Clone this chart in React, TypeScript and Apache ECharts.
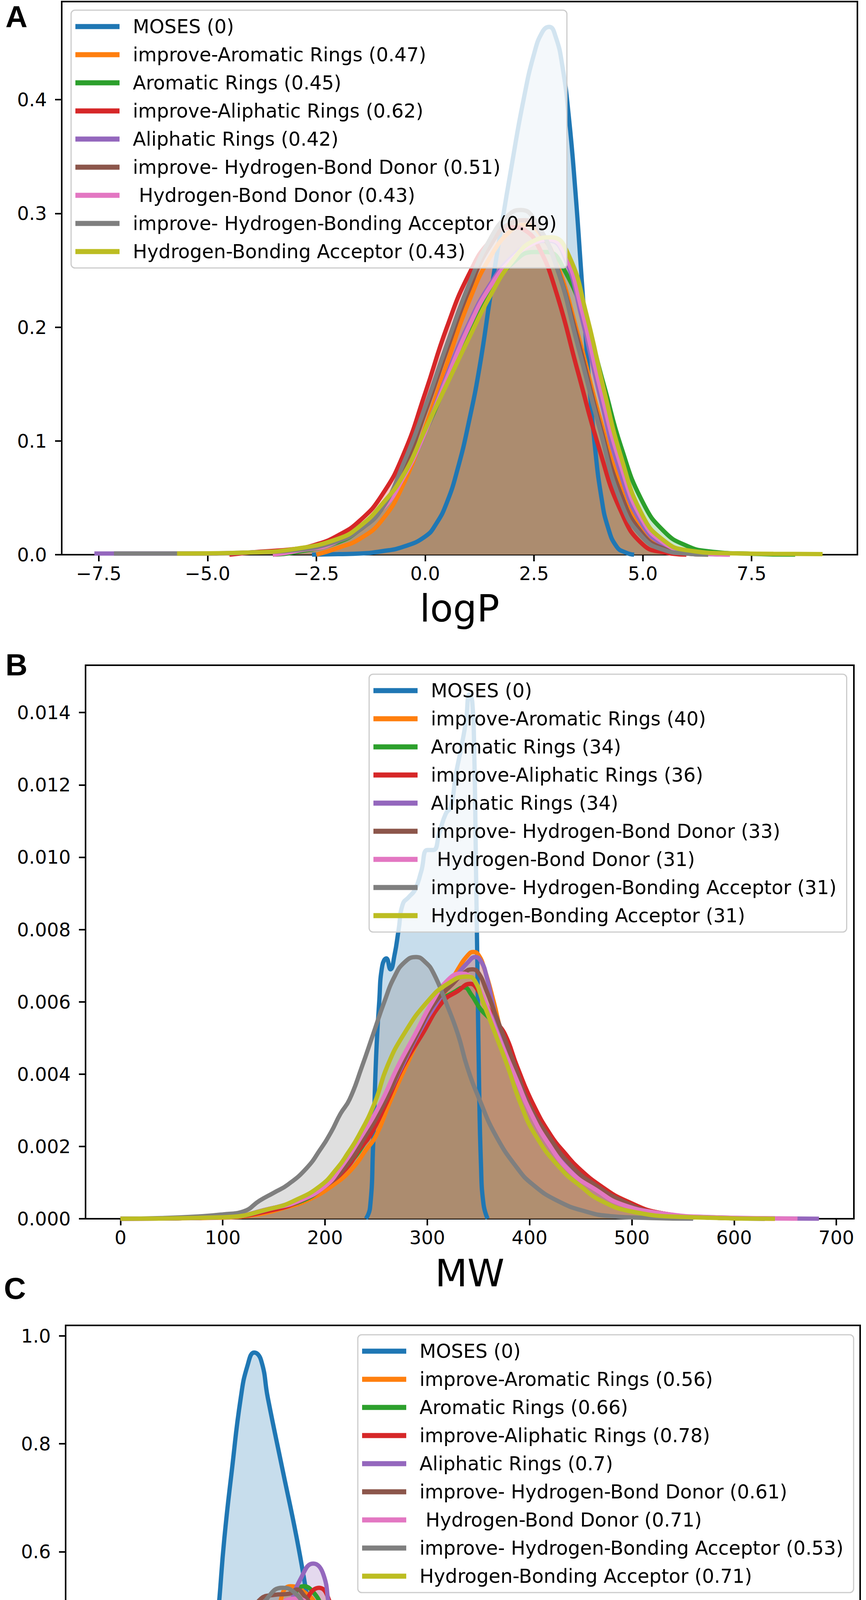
import React, { useEffect, useRef } from 'react';
import * as echarts from 'echarts';

const COLORS = ['#1f77b4', '#ff7f0e', '#2ca02c', '#d62728', '#9467bd', '#8c564b', '#e377c2', '#7f7f7f', '#bcbd22'];

const NAMES_A = ['MOSES (0)', 'improve-Aromatic Rings (0.47)', 'Aromatic Rings (0.45)', 'improve-Aliphatic Rings (0.62)', 'Aliphatic Rings (0.42)', 'improve- Hydrogen-Bond Donor (0.51)', ' Hydrogen-Bond Donor (0.43)', 'improve- Hydrogen-Bonding Acceptor (0.49)', 'Hydrogen-Bonding Acceptor (0.43)'];
const NAMES_B = ['MOSES (0)', 'improve-Aromatic Rings (40)', 'Aromatic Rings (34)', 'improve-Aliphatic Rings (36)', 'Aliphatic Rings (34)', 'improve- Hydrogen-Bond Donor (33)', ' Hydrogen-Bond Donor (31)', 'improve- Hydrogen-Bonding Acceptor (31)', 'Hydrogen-Bonding Acceptor (31)'];
const NAMES_C = ['MOSES (0)', 'improve-Aromatic Rings (0.56)', 'Aromatic Rings (0.66)', 'improve-Aliphatic Rings (0.78)', 'Aliphatic Rings (0.7)', 'improve- Hydrogen-Bond Donor (0.61)', ' Hydrogen-Bond Donor (0.71)', 'improve- Hydrogen-Bonding Acceptor (0.53)', 'Hydrogen-Bonding Acceptor (0.71)'];

// ---------- Panel A: logP ----------
const A_MOSES = [[-2.6,0],[-2,0.0005],[-1.5,0.001],[-1,0.003],[-0.5,0.007],[0,0.016],[0.25,0.027],[0.5,0.046],[0.75,0.076],[1.0,0.116],[1.25,0.165],[1.5,0.228],[1.75,0.288],[2.0,0.345],[2.25,0.398],[2.5,0.44],[2.7,0.46],[2.85,0.464],[3.0,0.455],[3.15,0.43],[3.3,0.385],[3.45,0.32],[3.6,0.24],[3.75,0.16],[3.9,0.095],[4.05,0.05],[4.2,0.024],[4.4,0.007],[4.6,0.002],[4.8,0]];
const A_IMP_ARO = [[-2.5,0],[-2,0.006],[-1.5,0.014],[-1,0.03],[-0.5,0.062],[0,0.112],[0.5,0.168],[1,0.222],[1.5,0.262],[2,0.286],[2.3,0.29],[2.6,0.284],[3,0.258],[3.5,0.195],[4,0.122],[4.5,0.06],[5,0.022],[5.5,0.007],[6,0.002],[6.5,0]];
const A_ARO = [[-3.5,0],[-3,0.002],[-2,0.011],[-1.5,0.022],[-1,0.04],[-0.5,0.07],[0,0.108],[0.5,0.152],[1,0.196],[1.5,0.232],[2,0.256],[2.5,0.266],[2.8,0.266],[3.2,0.25],[3.7,0.203],[4.1,0.15],[4.5,0.095],[5,0.046],[5.5,0.02],[6,0.008],[6.5,0.003],[7.5,0.0008],[8.5,0]];
const A_IMP_ALI = [[-4.5,0],[-4,0.002],[-3,0.005],[-2.5,0.009],[-2,0.017],[-1.5,0.03],[-1,0.052],[-0.5,0.088],[0,0.142],[0.5,0.2],[1,0.246],[1.5,0.276],[2,0.288],[2.3,0.285],[2.6,0.271],[3,0.232],[3.5,0.162],[4,0.093],[4.5,0.038],[5,0.009],[5.5,0.002],[6,0]];
const A_ALI = [[-7.6,0.001],[-6,0.001],[-5,0.001],[-4,0.002],[-3,0.004],[-2,0.012],[-1,0.04],[-0.5,0.068],[0,0.108],[0.5,0.158],[1,0.203],[1.5,0.238],[2,0.262],[2.5,0.274],[2.85,0.276],[3.2,0.262],[3.6,0.208],[4,0.142],[4.5,0.07],[5,0.026],[5.5,0.008],[6,0.002],[7,0]];
const A_IMP_HBD = [[-3.5,0],[-3,0.003],[-2,0.012],[-1,0.04],[-0.5,0.075],[0,0.125],[0.5,0.18],[1,0.232],[1.5,0.272],[2,0.292],[2.3,0.294],[2.7,0.28],[3,0.256],[3.5,0.19],[4,0.116],[4.5,0.053],[5,0.018],[5.5,0.005],[6,0.001],[6.5,0]];
const A_HBD = [[-3.5,0],[-3,0.003],[-2,0.012],[-1,0.04],[-0.5,0.068],[0,0.108],[0.5,0.155],[1,0.2],[1.5,0.236],[2,0.26],[2.5,0.274],[2.85,0.277],[3.2,0.265],[3.6,0.215],[4,0.15],[4.5,0.078],[5,0.03],[5.5,0.01],[6,0.003],[7,0]];
const A_IMP_HBA = [[-7.15,0.001],[-6,0.001],[-5.6,0.001],[-4,0.002],[-3,0.004],[-2,0.012],[-1.5,0.022],[-1,0.04],[-0.5,0.08],[0,0.13],[0.5,0.185],[1,0.237],[1.5,0.278],[1.9,0.298],[2.2,0.303],[2.5,0.295],[3,0.255],[3.5,0.185],[4,0.112],[4.5,0.046],[5,0.015],[5.5,0.004],[6,0.001],[6.5,0]];
const A_HBA = [[-5.7,0.001],[-4,0.002],[-3,0.005],[-2,0.014],[-1.5,0.025],[-1,0.044],[-0.5,0.07],[0,0.11],[0.5,0.15],[1,0.19],[1.5,0.228],[2,0.258],[2.5,0.276],[2.9,0.279],[3.3,0.263],[3.7,0.212],[4.1,0.146],[4.5,0.086],[5,0.034],[5.5,0.012],[6,0.004],[7,0.0012],[8,0.0008],[9.13,0.0005]];

// ---------- Panel B: MW ----------
const B_MOSES = [[240,0],[244,0.0003],[247,0.002],[250,0.0045],[253,0.006],[256,0.007],[260,0.0072],[264,0.0069],[268,0.0073],[272,0.008],[276,0.0087],[282,0.0089],[288,0.0091],[294,0.0096],[300,0.0102],[306,0.0102],[312,0.0107],[318,0.0112],[323,0.0114],[328,0.0123],[333,0.013],[338,0.0138],[341,0.0145],[344,0.0143],[346,0.0128],[347.5,0.01],[349,0.007],[350.5,0.004],[352.5,0.0015],[355,0.0004],[359,0]];
const B_IMP_ARO = [[0,0],[100,0.00003],[136,0.00013],[160,0.0003],[182,0.0005],[209,0.00095],[227,0.0014],[240,0.0019],[250,0.0023],[263,0.0032],[279,0.0042],[294,0.0051],[312,0.006],[330,0.0069],[340,0.0073],[345,0.00738],[350,0.0073],[356,0.0069],[365,0.006],[373,0.0051],[385,0.0042],[397,0.0032],[415,0.0023],[430,0.0018],[445,0.0014],[467,0.00095],[494,0.0005],[530,0.00015],[580,0.00003],[640,0]];
const B_ARO = [[0,0],[100,0.00004],[150,0.0003],[178,0.0005],[200,0.0009],[220,0.0014],[243,0.0023],[259,0.0032],[275,0.0042],[293,0.0051],[313,0.006],[328,0.0063],[336,0.0064],[343,0.0062],[352,0.0058],[362,0.0055],[371,0.0051],[385,0.0042],[400,0.0032],[420,0.0023],[442,0.0014],[465,0.0009],[490,0.0005],[530,0.00015],[580,0.00003],[630,0]];
const B_IMP_ALI = [[0,0],[100,0.00004],[150,0.00025],[176,0.0005],[200,0.0009],[221,0.0014],[233,0.0019],[244,0.0023],[260,0.0032],[276,0.0042],[295,0.0051],[315,0.006],[330,0.0063],[342,0.0065],[350,0.0063],[358,0.0059],[366,0.0055],[376,0.0051],[388,0.0042],[403,0.0032],[421,0.0023],[435,0.0018],[448,0.0014],[470,0.0009],[494,0.0005],[530,0.00015],[580,0.00003],[640,0]];
const B_ALI = [[0,0],[100,0.00004],[150,0.0003],[180,0.0006],[200,0.0009],[218,0.0014],[239,0.0023],[257.6,0.0032],[275,0.0042],[291,0.0051],[310,0.006],[328,0.0067],[340,0.0071],[347,0.00724],[353,0.0071],[358,0.0067],[363.6,0.006],[371,0.0051],[384,0.0042],[397,0.0032],[416,0.0023],[439,0.0014],[460,0.0009],[485,0.0005],[520,0.00018],[580,0.00004],[640,0.00001],[683,0]];
const B_IMP_HBD = [[0,0],[100,0.00004],[150,0.0003],[176,0.0005],[200,0.0009],[219,0.0014],[240,0.0023],[258,0.0032],[274,0.0042],[290,0.0051],[308,0.006],[325,0.0065],[336,0.0068],[344,0.0069],[350,0.0068],[358,0.0063],[366,0.0057],[374,0.0051],[386,0.0042],[399,0.0032],[418,0.0023],[443,0.0014],[466,0.0009],[490,0.0005],[525,0.00016],[580,0.00003],[630,0]];
const B_HBD = [[0,0],[100,0.00004],[150,0.0003],[175,0.0005],[200,0.0009],[215,0.0014],[236,0.0023],[254.5,0.0032],[271,0.0042],[288,0.0051],[305,0.006],[320,0.0066],[333,0.00678],[342,0.0067],[350,0.0064],[358,0.0059],[366,0.0053],[376,0.0046],[388,0.0038],[400,0.003],[418,0.0021],[440,0.0013],[465,0.0008],[490,0.0004],[530,0.00015],[580,0.00004],[640,0.00001],[662,0]];
const B_IMP_HBA = [[0,0],[40,0.00002],[80,0.00007],[100,0.00012],[120,0.0002],[136,0.0005],[150,0.00072],[164,0.00095],[182,0.0014],[195,0.0019],[206,0.0024],[215,0.0029],[224,0.0033],[236,0.0042],[247,0.0051],[258,0.006],[268,0.0067],[278,0.0071],[289,0.00724],[298,0.0071],[306,0.0068],[318,0.006],[330,0.0051],[339,0.0042],[351,0.0033],[367,0.0023],[388,0.0014],[403,0.00095],[427,0.0005],[455,0.0002],[480,0.00007],[520,0.00002],[560,0]];
const B_HBA = [[0,0],[100,0.00004],[150,0.0003],[170,0.0005],[195,0.0009],[212,0.0014],[222,0.0018],[233,0.0023],[248.5,0.0032],[260.6,0.0042],[277,0.0051],[300,0.006],[320,0.0065],[339,0.0067],[346,0.0066],[354.5,0.006],[366.7,0.0051],[378.8,0.0042],[391,0.0032],[406,0.0023],[430,0.0014],[450,0.0009],[470,0.0005],[500,0.0002],[550,0.00005],[640,0]];

// ---------- Panel C: SA ----------
const C_MOSES = [[1.0,0],[1.23,0.005],[1.44,0.025],[1.59,0.07],[1.67,0.135],[1.74,0.233],[1.80,0.364],[1.87,0.494],[1.93,0.624],[2.01,0.754],[2.10,0.885],[2.17,0.945],[2.24,0.969],[2.31,0.955],[2.38,0.885],[2.53,0.754],[2.68,0.624],[2.81,0.494],[2.95,0.364],[3.12,0.233],[3.25,0.168],[3.45,0.103],[3.65,0.064],[3.89,0.038],[4.23,0.018],[4.73,0.005],[5.2,0.001],[5.8,0]];
const C_IMP_ARO = [[0.65,0],[1.0,0.001],[1.3,0.004],[1.5,0.013],[1.67,0.038],[1.8,0.103],[2.04,0.233],[2.29,0.364],[2.45,0.46],[2.61,0.536],[2.72,0.53],[2.9,0.494],[3.15,0.364],[3.45,0.298],[3.82,0.233],[4.16,0.168],[4.46,0.103],[4.9,0.038],[5.23,0.012],[5.7,0.003],[6.5,0]];
const C_ARO = [[0.8,0],[1.2,0.002],[1.5,0.01],[1.7,0.038],[1.87,0.103],[2.12,0.233],[2.36,0.364],[2.5,0.44],[2.63,0.51],[2.75,0.536],[2.85,0.525],[2.95,0.494],[3.1,0.43],[3.25,0.364],[3.45,0.331],[3.65,0.298],[3.99,0.233],[4.25,0.168],[4.52,0.103],[4.99,0.038],[5.4,0.012],[6,0.003],[7,0]];
const C_IMP_ALI = [[0.9,0],[1.2,0.001],[1.45,0.005],[1.6,0.012],[1.77,0.038],[1.94,0.103],[2.21,0.233],[2.44,0.364],[2.61,0.429],[2.75,0.5],[2.91,0.533],[3.05,0.494],[3.18,0.429],[3.35,0.364],[3.58,0.331],[3.82,0.298],[4.12,0.233],[4.36,0.168],[4.63,0.103],[5.07,0.038],[5.5,0.012],[6,0.004],[7,0]];
const C_ALI = [[0.9,0],[1.3,0.001],[1.5,0.003],[1.6,0.008],[1.74,0.038],[1.91,0.103],[2.14,0.233],[2.34,0.364],[2.5,0.44],[2.6,0.494],[2.72,0.55],[2.85,0.578],[2.95,0.56],[3.02,0.494],[3.12,0.43],[3.25,0.364],[3.52,0.298],[3.79,0.266],[4.06,0.233],[4.29,0.168],[4.6,0.103],[4.83,0.07],[5.13,0.038],[5.57,0.012],[6.2,0.003],[7,0]];
const C_IMP_HBD = [[0.8,0],[1.2,0.002],[1.45,0.012],[1.6,0.04],[1.70,0.103],[1.87,0.233],[2.04,0.364],[2.17,0.461],[2.31,0.513],[2.45,0.52],[2.6,0.522],[2.68,0.53],[2.75,0.52],[2.85,0.494],[3.05,0.429],[3.28,0.364],[3.59,0.298],[3.88,0.233],[4.12,0.2],[4.26,0.168],[4.56,0.103],[5.03,0.038],[5.4,0.012],[6,0.003],[7,0]];
const C_HBD = [[0.8,0],[1.2,0.002],[1.5,0.015],[1.62,0.04],[1.75,0.103],[1.94,0.233],[2.14,0.364],[2.31,0.45],[2.5,0.5],[2.68,0.513],[2.8,0.5],[2.95,0.45],[3.22,0.364],[3.52,0.298],[3.72,0.266],[3.95,0.233],[4.29,0.168],[4.66,0.103],[5.26,0.038],[5.9,0.012],[6.5,0.004],[7.5,0.0005],[8,0]];
const C_IMP_HBA = [[0.9,0],[1.1,0.006],[1.3,0.025],[1.42,0.06],[1.53,0.103],[1.7,0.17],[1.84,0.233],[2.0,0.364],[2.2,0.46],[2.38,0.515],[2.53,0.533],[2.65,0.525],[2.78,0.494],[2.98,0.429],[3.18,0.364],[3.48,0.298],[3.79,0.233],[4.06,0.168],[4.39,0.103],[4.9,0.038],[5.3,0.012],[6,0.002],[7,0]];
const C_HBA = [[0.9,0],[1.2,0.002],[1.4,0.01],[1.57,0.038],[1.74,0.103],[1.96,0.233],[2.14,0.364],[2.31,0.429],[2.5,0.47],[2.71,0.48],[2.9,0.46],[3.05,0.429],[3.25,0.364],[3.59,0.298],[3.82,0.266],[4.05,0.233],[4.36,0.168],[4.66,0.103],[5.16,0.038],[5.6,0.012],[6.3,0.003],[7.5,0.0005],[8.2,0]];

const DATA_A = [A_MOSES, A_IMP_ARO, A_ARO, A_IMP_ALI, A_ALI, A_IMP_HBD, A_HBD, A_IMP_HBA, A_HBA];
const DATA_B = [B_MOSES, B_IMP_ARO, B_ARO, B_IMP_ALI, B_ALI, B_IMP_HBD, B_HBD, B_IMP_HBA, B_HBA];
const DATA_C = [C_MOSES, C_IMP_ARO, C_ARO, C_IMP_ALI, C_ALI, C_IMP_HBD, C_HBD, C_IMP_HBA, C_HBA];

const TICKS_X_A = [-7.5, -5, -2.5, 0, 2.5, 5, 7.5];
const TICKS_Y_A = [0, 0.1, 0.2, 0.3, 0.4];
const TICKS_X_B = [0, 100, 200, 300, 400, 500, 600, 700];
const TICKS_Y_B = [0, 0.002, 0.004, 0.006, 0.008, 0.01, 0.012, 0.014];
const TICKS_X_C = [1, 2, 3, 4, 5, 6, 7, 8];
const TICKS_Y_C = [0, 0.2, 0.4, 0.6, 0.8, 1.0];

const FONT = 'DejaVu Sans';

function minusFmt(v: number, d: number) {
  const s = Math.abs(v).toFixed(d);
  return v < -1e-9 ? '\u2212' + s : s;
}

function makeX(grid: number, min: number, max: number, ticks: number[], fmt: (v: number) => string, name: string, gap: number) {
  return {
    type: 'value', gridIndex: grid, min, max,
    axisLine: { show: true, onZero: false, lineStyle: { color: '#000', width: 4 } },
    axisTick: { show: true, length: 17, customValues: ticks, lineStyle: { color: '#000', width: 4 } },
    axisLabel: { customValues: ticks, formatter: fmt, fontSize: 48, fontFamily: FONT, color: '#000', margin: 24 },
    splitLine: { show: false },
    name, nameLocation: 'middle', nameGap: gap,
    nameTextStyle: { fontSize: 96, fontFamily: FONT, color: '#000', lineHeight: 96 },
  };
}

function makeY(grid: number, max: number, ticks: number[], fmt: (v: number) => string) {
  return {
    type: 'value', gridIndex: grid, min: 0, max,
    axisLine: { show: true, onZero: false, lineStyle: { color: '#000', width: 4 } },
    axisTick: { show: true, length: 17, customValues: ticks, lineStyle: { color: '#000', width: 4 } },
    axisLabel: { customValues: ticks, formatter: fmt, fontSize: 48, fontFamily: FONT, color: '#000', margin: 38 },
    splitLine: { show: false },
  };
}

function makeSeries(grid: number, names: string[], datas: number[][][], tag: string) {
  const areas = datas.map((d, i) => ({
    type: 'line', name: `${tag}-fill-${i}`, xAxisIndex: grid, yAxisIndex: grid, data: d,
    smooth: 0.5, symbol: 'none', showSymbol: false, silent: true,
    lineStyle: { width: 0, opacity: 0 }, itemStyle: { color: COLORS[i] },
    areaStyle: { color: COLORS[i], opacity: 0.25 }, z: 2,
  }));
  const lines = datas.map((d, i) => ({
    type: 'line', name: names[i], xAxisIndex: grid, yAxisIndex: grid, data: d,
    smooth: 0.5, symbol: 'none', showSymbol: false,
    lineStyle: { width: 11, color: COLORS[i] }, itemStyle: { color: COLORS[i] }, z: 3,
  }));
  return [...areas, ...lines];
}

function makeLegend(names: string[], left: number, top: number) {
  return {
    orient: 'vertical', left, top, selectedMode: false, z: 10,
    data: names.map((n, i) => ({ name: n, icon: 'rect', itemStyle: { color: COLORS[i], borderWidth: 0 } })),
    itemWidth: 113, itemHeight: 13, itemGap: 18,
    padding: [15, 26, 15, 11],
    backgroundColor: 'rgba(255,255,255,0.8)', borderColor: '#cccccc', borderWidth: 3, borderRadius: 10,
    textStyle: { fontSize: 49, fontFamily: FONT, color: '#000', lineHeight: 54, padding: [0, 0, 0, 29] },
  };
}

const LETTER_FONT = 'bold 78px "Liberation Sans"';

export default function App() {
  const ref = useRef<HTMLDivElement>(null);
  useEffect(() => {
    if (!ref.current) return;
    const chart = echarts.init(ref.current, undefined, { renderer: 'svg' });
    const option = {
      animation: false,
      backgroundColor: '#ffffff',
      textStyle: { fontFamily: FONT },
      grid: [
        { left: 158, top: 4, width: 2037, height: 1416, show: true, borderColor: '#000', borderWidth: 4, containLabel: false },
        { left: 219, top: 1703, width: 1967, height: 1417, show: true, borderColor: '#000', borderWidth: 4, containLabel: false },
        { left: 168, top: 3393, width: 2034, height: 1418, show: true, borderColor: '#000', borderWidth: 4, containLabel: false },
      ],
      xAxis: [
        makeX(0, -8.35, 9.93, TICKS_X_A, (v: number) => minusFmt(v, 1), 'logP', 90),
        makeX(1, -34.15, 717.15, TICKS_X_B, (v: number) => String(Math.round(v)), 'MW', 92),
        makeX(2, 0.289, 8.505, TICKS_X_C, (v: number) => String(Math.round(v)), 'SA', 93),
      ],
      yAxis: [
        makeY(0, 0.4862, TICKS_Y_A, (v: number) => v.toFixed(1)),
        makeY(1, 0.01531, TICKS_Y_B, (v: number) => v.toFixed(3)),
        makeY(2, 1.0194, TICKS_Y_C, (v: number) => v.toFixed(1)),
      ],
      legend: [
        makeLegend(NAMES_A, 182, 26),
        makeLegend(NAMES_B, 945, 1726),
        makeLegend(NAMES_C, 916, 3417),
      ],
      graphic: [
        { type: 'text', x: 14, y: 43, style: { text: 'A', font: LETTER_FONT, fill: '#000', verticalAlign: 'middle', lineHeight: 60 } },
        { type: 'text', x: 14, y: 1702, style: { text: 'B', font: LETTER_FONT, fill: '#000', verticalAlign: 'middle', lineHeight: 60 } },
        { type: 'text', x: 10, y: 3298, style: { text: 'C', font: LETTER_FONT, fill: '#000', verticalAlign: 'middle', lineHeight: 60 } },
      ],
      series: [
        ...makeSeries(0, NAMES_A, DATA_A, 'A'),
        ...makeSeries(1, NAMES_B, DATA_B, 'B'),
        ...makeSeries(2, NAMES_C, DATA_C, 'C'),
      ],
    };
    chart.setOption(option as any);
    return () => chart.dispose();
  }, []);
  return <div ref={ref} style={{ position: 'absolute', left: 0, top: 0, width: 2217, height: 4991 }} />;
}
